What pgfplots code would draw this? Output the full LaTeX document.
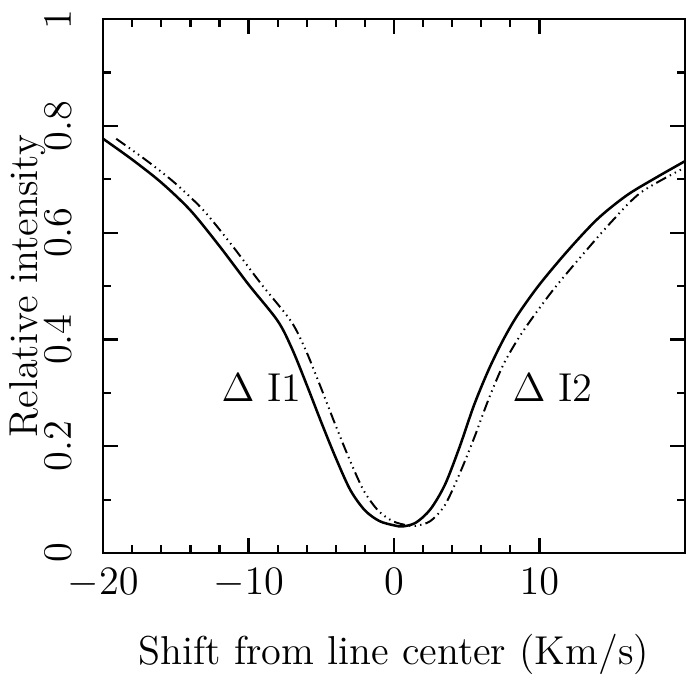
\documentclass[border=0pt]{standalone}
\usepackage{pgfplots}
\pgfplotsset{compat=1.18}

% Delta I1 (solid)
\pgfplotstableread{
x y
-20.0 0.776
-18.0 0.737
-16.0 0.694
-14.0 0.642
-12.0 0.575
-10.0 0.503
-8.0 0.435
-7.0 0.382
-6.0 0.315
-5.0 0.245
-4.0 0.178
-3.0 0.118
-2.0 0.080
-1.0 0.060
0.0 0.052
0.6 0.050
1.5 0.057
2.5 0.082
3.5 0.128
4.5 0.198
5.5 0.277
6.5 0.343
7.5 0.399
8.5 0.446
10.0 0.503
12.0 0.568
14.0 0.626
16.0 0.670
18.0 0.703
20.0 0.734
}\dataA

% Delta I2 (dash-dot-dot)
\pgfplotstableread{
x y
-19.1 0.776
-17.1 0.737
-15.1 0.694
-13.1 0.642
-11.1 0.575
-9.1 0.503
-7.1 0.435
-6.1 0.382
-5.1 0.315
-4.1 0.245
-3.1 0.178
-2.1 0.118
-1.1 0.080
-0.1 0.060
0.9 0.052
1.5 0.051
2.5 0.060
3.5 0.090
4.5 0.148
5.5 0.215
6.5 0.288
7.5 0.352
8.5 0.400
9.5 0.440
11.0 0.495
13.0 0.560
15.0 0.622
17.0 0.676
20.0 0.722
}\dataB

\begin{document}
\begin{tikzpicture}
\begin{axis}[
  width=7.3cm, height=6.7cm,
  scale only axis,
  xmin=-20, xmax=20,
  ymin=0, ymax=1,
  xtick={-20,-10,0,10},
  ytick={0,0.2,0.4,0.6,0.8,1},
  minor x tick num=4,
  minor y tick num=1,
  tick align=inside,
  major tick length=0.19cm,
  minor tick length=0.1cm,
  axis line style={line width=0.8pt},
  every tick/.style={black, line width=0.8pt},
  tick label style={font=\Large},
  label style={font=\Large},
  yticklabel style={rotate=90, anchor=south},
  xticklabel shift=2pt,
  yticklabel shift=8pt,
  xlabel={Shift from line center (Km/s)},
  ylabel={Relative intensity},
  xlabel shift=0.22cm,
  ylabel shift=-0.25cm,
]
\addplot[black, line width=0.9pt, smooth] table[x=x,y=y] {\dataA};
\addplot[black, line width=0.7pt, smooth,
  dash pattern=on 4pt off 1.5pt on 0.5pt off 1.5pt on 0.5pt off 1.5pt on 0.5pt off 1.5pt]
  table[x=x,y=y] {\dataB};
\node[font=\Large] at (axis cs:-9.1,0.31) {$\Delta$\ I1};
\node[font=\Large] at (axis cs:10.9,0.31) {$\Delta$\ I2};
\end{axis}
\end{tikzpicture}
\end{document}
